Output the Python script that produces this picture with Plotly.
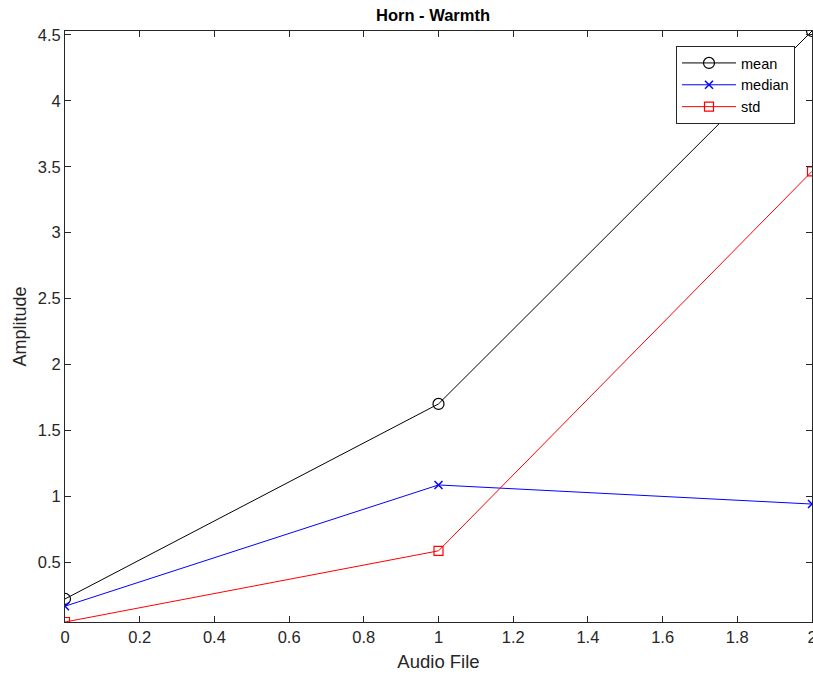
import plotly.graph_objects as go

audio_file = [0, 1, 2]
mean_vals = [0.22, 1.70, 4.53]
median_vals = [0.165, 1.085, 0.94]
std_vals = [0.045, 0.585, 3.465]
x_ticks = [0, 0.2, 0.4, 0.6, 0.8, 1, 1.2, 1.4, 1.6, 1.8, 2]
x_tick_text = ["0", "0.2", "0.4", "0.6", "0.8", "1", "1.2", "1.4", "1.6", "1.8", "2"]
y_ticks = [0.5, 1, 1.5, 2, 2.5, 3, 3.5, 4, 4.5]
y_tick_text = ["0.5", "1", "1.5", "2", "2.5", "3", "3.5", "4", "4.5"]

FONT = "Liberation Sans, Arial, Helvetica, sans-serif"

fig = go.Figure()
fig.add_trace(go.Scatter(x=audio_file, y=mean_vals, name="mean", mode="lines+markers",
                         line=dict(color="black", width=1),
                         marker=dict(symbol="circle-open", size=11, color="black", line=dict(width=1.2))))
fig.add_trace(go.Scatter(x=audio_file, y=median_vals, name="median", mode="lines+markers",
                         line=dict(color="blue", width=1),
                         marker=dict(symbol="x-thin-open", size=8, color="blue", line=dict(width=1.5, color="blue"))))
fig.add_trace(go.Scatter(x=audio_file, y=std_vals, name="std", mode="lines+markers",
                         line=dict(color="red", width=1),
                         marker=dict(symbol="square-open", size=9, color="red", line=dict(width=1.2))))

axis_common = dict(showgrid=False, zeroline=False, showline=True, linecolor="#262626", linewidth=1,
                   mirror="ticks", ticks="inside", ticklen=6, tickcolor="#262626", automargin=False,
                   ticklabeloverflow="allow",
                   tickfont=dict(family=FONT, size=16.5, color="#262626"))

fig.update_layout(
    width=813, height=677,
    margin=dict(l=65, r=1, t=31, b=55),
    paper_bgcolor="white", plot_bgcolor="white",
    title=dict(text="<b>Horn - Warmth</b>", x=433 / 813, xanchor="center", xref="container",
               y=1 - 15 / 677, yanchor="middle", font=dict(family=FONT, size=16.5, color="black")),
    xaxis=dict(range=[0, 2], tickvals=x_ticks, ticktext=x_tick_text,
               title=dict(text="Audio File", font=dict(family=FONT, size=18.5, color="#262626"), standoff=10),
               **axis_common),
    yaxis=dict(range=[0.045, 4.53], tickvals=y_ticks, ticktext=y_tick_text,
               title=dict(text="Amplitude", font=dict(family=FONT, size=18, color="#262626"), standoff=6),
               **axis_common),
    legend=dict(x=(676 - 65) / 747, y=(622 - 46) / 591, xanchor="left", yanchor="top",
                bgcolor="white", bordercolor="#262626", borderwidth=1,
                font=dict(family=FONT, size=14.5, color="black"),
                tracegroupgap=0, itemwidth=54),
    showlegend=True,
)

fig.write_html("out.html", config={"displayModeBar": False},
               post_script="document.body.style.margin='0';document.body.style.overflow='hidden';")
